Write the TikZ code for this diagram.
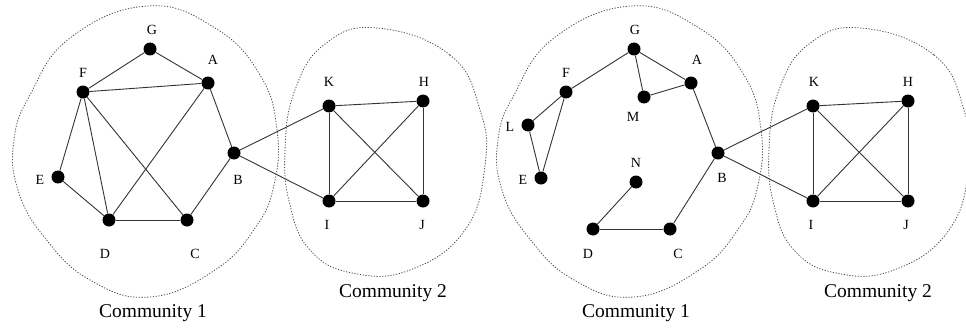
\documentclass[tikz,border=0pt]{standalone}
\usepackage{fontspec}
\setmainfont{Liberation Serif}
\begin{document}
\begin{tikzpicture}[x=1pt,y=-1pt,
  vtx/.style={circle,fill=black,inner sep=0pt,minimum size=13pt},
  lbl/.style={font=\fontsize{14}{14}\selectfont, inner sep=0pt},
  edge/.style={line width=0.9pt, draw=black!80},
  bound/.style={draw=black!70, line width=0.8pt, dash pattern=on 1.2pt off 1.6pt},
  comm/.style={font=\fontsize{19.5}{19.5}\selectfont, inner sep=0pt}]
\useasboundingbox (0,0) rectangle (966,329);
% community boundaries
\foreach \s in {0,484}{
\begin{scope}[xshift=\s pt]
\draw[bound] plot[smooth cycle, tension=0.75] coordinates {(147,6) (215,28) (260,75) (277,130) (274,185) (255,228) (215,270) (150,297) (90,280) (45,238) (18,190) (14,140) (30,95) (70,38)};
\draw[bound] plot[smooth cycle, tension=0.75] coordinates {(377,28) (450,55) (480,110) (485,165) (465,230) (410,270) (352,273) (310,250) (290,205) (285,150) (295,90) (325,44)};
\end{scope}}
% left graph
\node[vtx] (lG) at (150,49) {};
\node[vtx] (lA) at (208,83) {};
\node[vtx] (lF) at (83,92) {};
\node[vtx] (lB) at (234,153) {};
\node[vtx] (lE) at (58,177) {};
\node[vtx] (lD) at (109,220) {};
\node[vtx] (lC) at (187,220) {};
\node[vtx] (lK) at (329,106) {};
\node[vtx] (lH) at (423,101) {};
\node[vtx] (lI) at (329,201) {};
\node[vtx] (lJ) at (423,201) {};
\foreach \a/\b in {G/F,G/A,F/A,F/E,F/D,F/C,A/D,A/B,E/D,D/C,C/B,B/K,B/I,K/H,K/I,K/J,H/I,H/J,I/J}
  \draw[edge] (l\a) -- (l\b);
\node[lbl] (tlG) at (152,30) {G};
\node[lbl] (tlA) at (213,60) {A};
\node[lbl] (tlF) at (83,73) {F};
\node[lbl] (tlE) at (40,180) {E};
\node[lbl] (tlB) at (238,180) {B};
\node[lbl] (tlD) at (105,254) {D};
\node[lbl] (tlC) at (195,254) {C};
\node[lbl] (tlK) at (329,82) {K};
\node[lbl] (tlH) at (424,82) {H};
\node[lbl] (tlI) at (327,225) {I};
\node[lbl] (tlJ) at (422,225) {J};
\node[comm] (lc1) at (153,313) {Community 1};
\node[comm] (lc2) at (393,293) {Community 2};
% right graph
\node[vtx] (rG) at (634,49) {};
\node[vtx] (rA) at (691,83) {};
\node[vtx] (rF) at (566,92) {};
\node[vtx] (rM) at (644,97) {};
\node[vtx] (rL) at (528,125) {};
\node[vtx] (rE) at (541,178) {};
\node[vtx] (rN) at (636,182) {};
\node[vtx] (rB) at (718,153) {};
\node[vtx] (rD) at (593,229) {};
\node[vtx] (rC) at (670,229) {};
\node[vtx] (rK) at (813,106) {};
\node[vtx] (rH) at (908,101) {};
\node[vtx] (rI) at (813,201) {};
\node[vtx] (rJ) at (908,201) {};
\foreach \a/\b in {G/F,G/A,G/M,M/A,F/L,F/E,L/E,A/B,B/C,C/D,D/N,B/K,B/I,K/H,K/I,K/J,H/I,H/J,I/J}
  \draw[edge] (r\a) -- (r\b);
\node[lbl] (trG) at (635,30) {G};
\node[lbl] (trA) at (697,60) {A};
\node[lbl] (trF) at (566,73) {F};
\node[lbl] (trM) at (633,117) {M};
\node[lbl] (trL) at (510,127) {L};
\node[lbl] (trE) at (523,180) {E};
\node[lbl] (trN) at (636,163) {N};
\node[lbl] (trB) at (722,178) {B};
\node[lbl] (trD) at (588,254) {D};
\node[lbl] (trC) at (678,254) {C};
\node[lbl] (trK) at (814,82) {K};
\node[lbl] (trH) at (908,82) {H};
\node[lbl] (trI) at (811,225) {I};
\node[lbl] (trJ) at (906,225) {J};
\node[comm] (rc1) at (636,313) {Community 1};
\node[comm] (rc2) at (878,293) {Community 2};
\end{tikzpicture}
\end{document}
